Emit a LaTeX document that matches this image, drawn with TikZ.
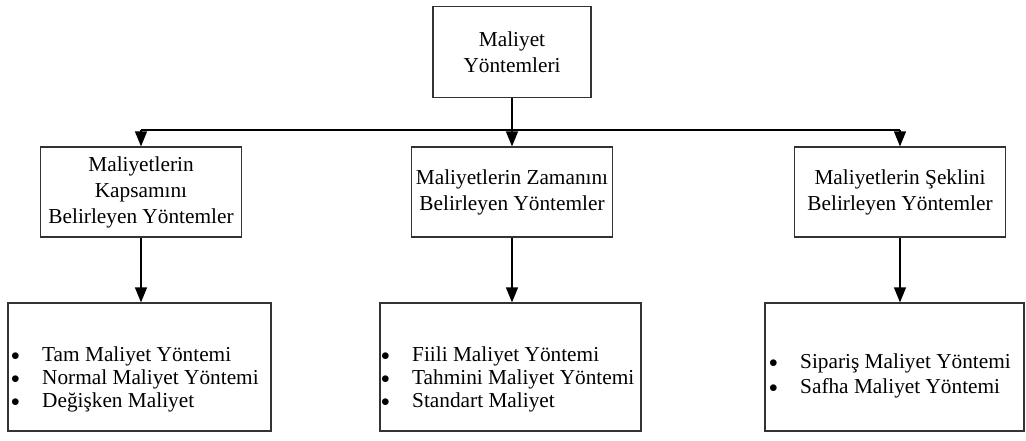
\documentclass[tikz,border=0pt]{standalone}
\usepackage{fontspec}
\setmainfont{Liberation Serif}
\usetikzlibrary{arrows.meta,positioning,calc}

\newcommand{\madde}{\makebox[31pt][l]{\raisebox{1pt}{\fontsize{19}{19}\selectfont$\bullet$}}}

\begin{document}
\begin{tikzpicture}[x=1pt,y=1pt,
          kutu/.style={draw=black!80, line width=1.2pt, fill=white, align=center, inner sep=0pt,
            font=\fontsize{21.3}{26}\selectfont},
          liste/.style={align=left, inner sep=0pt, anchor=west, font=\fontsize{21.3}{23}\selectfont},
          ok/.style={black, line width=1.4pt, -{Triangle[length=15pt,width=12pt]}},
          hat/.style={black, line width=1.4pt}
        ]
          \useasboundingbox (0,0) rectangle (1026,441);

          % Ana kutu
          \node[kutu, minimum width=158pt, minimum height=91pt] (ana) at (512,389) {Maliyet\\Yöntemleri};

          % Orta sira
          \node[kutu, minimum width=201pt, minimum height=90pt] (kapsam) at (141,249) {Maliyetlerin\\Kapsamını\\Belirleyen Yöntemler};
          \node[kutu, minimum width=201pt, minimum height=90pt] (zaman) at (512,249) {Maliyetlerin Zamanını\\Belirleyen Yöntemler};
          \node[kutu, minimum width=211pt, minimum height=90pt] (sekil) at (900,249) {Maliyetlerin Şeklini\\Belirleyen Yöntemler};

          % Alt sira
          \node[kutu, minimum width=263pt, minimum height=128pt] (tam) at (139.5,74) {};
          \node[kutu, minimum width=261pt, minimum height=128pt] (fiili) at (510.5,74) {};
          \node[kutu, minimum width=259pt, minimum height=128pt] (siparis) at (894.5,74) {};

          % Listeler
          \node[liste] (tamliste) at (11,62) {\madde Tam Maliyet Yöntemi\\\madde Normal Maliyet Yöntemi\\\madde Değişken Maliyet};
          \node[liste] (fiililiste) at (381,62) {\madde Fiili Maliyet Yöntemi\\\madde Tahmini Maliyet Yöntemi\\\madde Standart Maliyet};
          \node[liste, font=\fontsize{21.3}{25}\selectfont] (siparisliste) at (769,65) {\madde Sipariş Maliyet Yöntemi\\\madde Safha Maliyet Yöntemi};

          % Baglantilar
          \coordinate (kol) at (512,311);
          \draw[ok] (ana.south) -- (zaman.north);
          \draw[hat] (kapsam.north |- kol) -- (sekil.north |- kol);
          \draw[ok] (kol -| kapsam.north) -- (kapsam.north);
          \draw[ok] (kol -| sekil.north) -- (sekil.north);

          \draw[ok] (kapsam.south) -- (kapsam.south |- tam.north);
          \draw[ok] (zaman.south) -- (zaman.south |- fiili.north);
          \draw[ok] (sekil.south) -- (sekil.south |- siparis.north);
        \end{tikzpicture}
\end{document}
